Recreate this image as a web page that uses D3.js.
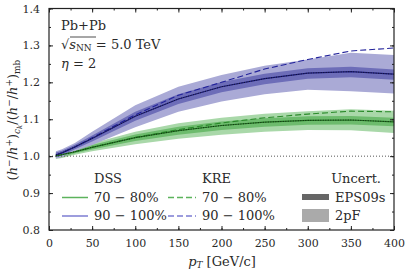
<!DOCTYPE html>
<html>
<head>
<meta charset="utf-8">
<script src="https://cdn.jsdelivr.net/npm/d3@7"></script>
<style>
body { margin: 0; background: #fff; }
text { font-family: "DejaVu Serif", serif; fill: #2a2a2a; }
</style>
</head>
<body>
<div id="chart"></div>
<script>
// pT grid (GeV/c)
var pt = [8, 15, 30, 50, 100, 150, 200, 250, 300, 350, 400]

// DSS central curves
var dss7080 = [1.001, 1.004, 1.012, 1.024, 1.050, 1.069, 1.083, 1.092, 1.097, 1.098, 1.093]
var dss90100 = [1.003, 1.009, 1.025, 1.048, 1.108, 1.155, 1.188, 1.210, 1.225, 1.229, 1.222]
// KRE curves
var kre7080 = [1.001, 1.004, 1.012, 1.024, 1.051, 1.072, 1.090, 1.104, 1.114, 1.122, 1.120]
var kre90100 = [1.003, 1.009, 1.025, 1.050, 1.112, 1.165, 1.200, 1.236, 1.262, 1.285, 1.293]

// 2pF bands (light)
var pf7080Lo = [0.992, 0.995, 1.004, 1.013, 1.032, 1.047, 1.058, 1.066, 1.071, 1.070, 1.063]
var pf7080Hi = [1.010, 1.013, 1.020, 1.035, 1.066, 1.089, 1.104, 1.115, 1.122, 1.127, 1.123]
var pf90100Lo = [0.994, 0.998, 1.014, 1.030, 1.078, 1.120, 1.148, 1.168, 1.180, 1.176, 1.170]
var pf90100Hi = [1.013, 1.019, 1.036, 1.066, 1.138, 1.188, 1.220, 1.245, 1.262, 1.280, 1.274]
// EPS09s bands (dark)
var eps7080Lo = [0.995, 0.998, 1.008, 1.018, 1.041, 1.058, 1.071, 1.080, 1.085, 1.086, 1.081]
var eps7080Hi = [1.007, 1.010, 1.016, 1.030, 1.059, 1.080, 1.094, 1.103, 1.108, 1.109, 1.104]
var eps90100Lo = [0.997, 1.002, 1.019, 1.040, 1.096, 1.141, 1.173, 1.195, 1.210, 1.214, 1.207]
var eps90100Hi = [1.010, 1.015, 1.031, 1.056, 1.120, 1.168, 1.201, 1.223, 1.238, 1.242, 1.235]

var xTicks = [0, 50, 100, 150, 200, 250, 300, 350, 400]
var yTicks = [0.8, 0.9, 1.0, 1.1, 1.2, 1.3, 1.4]

const W = 407, H = 273
var pLeft = 49, pRight = 394, pTop = 8.5, pBottom = 230

var svg = d3.select("#chart").append("svg")
    .attr("width", W).attr("height", H)

var x = d3.scaleLinear().domain([0, 400]).range([pLeft, pRight])
var y = d3.scaleLinear().domain([0.8, 1.4]).range([pBottom, pTop])

function band(lo, hi) {
    return d3.area()
        .x((d, i) => x(pt[i]))
        .y0((d, i) => y(lo[i]))
        .y1((d, i) => y(hi[i]))(pt)
}
var line = d3.line().x((d, i) => x(pt[i])).y(d => y(d))

// bands
svg.append("path").attr("d", band(pf7080Lo, pf7080Hi)).attr("fill", "#a9d8a9")
svg.append("path").attr("d", band(eps7080Lo, eps7080Hi)).attr("fill", "#6dbb6d")
svg.append("path").attr("d", band(pf90100Lo, pf90100Hi)).attr("fill", "#aaaad6")
svg.append("path").attr("d", band(eps90100Lo, eps90100Hi)).attr("fill", "#6d6db8")

// reference line at 1
svg.append("line")
    .attr("x1", x(0)).attr("x2", x(400)).attr("y1", y(1)).attr("y2", y(1))
    .attr("stroke", "#555").attr("stroke-width", 1).attr("stroke-dasharray", "1,2")

// KRE dashed
svg.append("path").attr("d", line(kre7080)).attr("fill", "none")
    .attr("stroke", "#2a8a2a").attr("stroke-width", 1.1).attr("stroke-dasharray", "6,3")
svg.append("path").attr("d", line(kre90100)).attr("fill", "none")
    .attr("stroke", "#22229a").attr("stroke-width", 1.1).attr("stroke-dasharray", "6,3")

// DSS central
svg.append("path").attr("d", line(dss7080)).attr("fill", "none")
    .attr("stroke", "#1f7a1f").attr("stroke-width", 1.2)
svg.append("path").attr("d", line(dss90100)).attr("fill", "none")
    .attr("stroke", "#1a1a80").attr("stroke-width", 1.2)
svg.append("path").attr("d", line(dss7080)).attr("fill", "none")
    .attr("stroke", "#111").attr("stroke-width", 0.8).attr("stroke-dasharray", "1,1.5")
svg.append("path").attr("d", line(dss90100)).attr("fill", "none")
    .attr("stroke", "#111").attr("stroke-width", 0.8).attr("stroke-dasharray", "1,1.5")

// axes with inward ticks on all four sides
var xMinor = d3.range(0, 401, 25), yMinor = d3.range(0.8, 1.4001, 0.05)
function axisG(ax, tr) {
    var g = svg.append("g").attr("transform", tr).call(ax)
    g.select(".domain").remove()
    g.selectAll("line").attr("stroke", "#222")
    return g
}
axisG(d3.axisBottom(x).tickValues(xTicks).tickSize(-4).tickPadding(9).tickFormat(d3.format("d")), `translate(0,${pBottom})`)
axisG(d3.axisBottom(x).tickValues(xMinor).tickSize(-2).tickFormat(""), `translate(0,${pBottom})`)
axisG(d3.axisTop(x).tickValues(xTicks).tickSize(-4).tickFormat(""), `translate(0,${pTop})`)
axisG(d3.axisTop(x).tickValues(xMinor).tickSize(-2).tickFormat(""), `translate(0,${pTop})`)
axisG(d3.axisLeft(y).tickValues(yTicks).tickSize(-4).tickPadding(9).tickFormat(d3.format(".1f")), `translate(${pLeft},0)`)
axisG(d3.axisLeft(y).tickValues(yMinor).tickSize(-2).tickFormat(""), `translate(${pLeft},0)`)
axisG(d3.axisRight(y).tickValues(yTicks).tickSize(-4).tickFormat(""), `translate(${pRight},0)`)
axisG(d3.axisRight(y).tickValues(yMinor).tickSize(-2).tickFormat(""), `translate(${pRight},0)`)
svg.selectAll(".tick text").attr("font-family", "DejaVu Serif").attr("font-size", 11).attr("fill", "#2a2a2a")

svg.append("rect").attr("x", pLeft).attr("y", pTop)
    .attr("width", pRight - pLeft).attr("height", pBottom - pTop)
    .attr("fill", "none").attr("stroke", "#222").attr("stroke-width", 1.2)

// axis labels
svg.append("text").attr("x", 222).attr("y", 266).attr("text-anchor", "middle").attr("font-size", 13)
    .html('<tspan font-style="italic">p</tspan><tspan font-style="italic" font-size="9" dy="2">T</tspan><tspan dy="-2"> [GeV/c]</tspan>')
svg.append("text").attr("transform", "translate(17,120) rotate(-90)").attr("text-anchor", "middle").attr("font-size", 13)
    .html('(<tspan font-style="italic">h</tspan><tspan font-size="9" dy="-5">−</tspan><tspan dy="5">/</tspan><tspan font-style="italic">h</tspan><tspan font-size="9" dy="-5">+</tspan><tspan dy="5">)</tspan><tspan font-style="italic" font-size="9" dy="3">c</tspan><tspan font-style="italic" font-size="7" dy="1.5">k</tspan><tspan dy="-4.5">/(</tspan><tspan font-style="italic">h</tspan><tspan font-size="9" dy="-5">−</tspan><tspan dy="5">/</tspan><tspan font-style="italic">h</tspan><tspan font-size="9" dy="-5">+</tspan><tspan dy="5">)</tspan><tspan font-size="9" dy="3">mb</tspan>')

// annotation
svg.append("text").attr("x", 61).attr("y", 30).attr("font-size", 13).text("Pb+Pb")
svg.append("text").attr("x", 61).attr("y", 49).attr("font-size", 13)
    .html('√<tspan font-style="italic">s</tspan><tspan font-size="9" dy="2">NN</tspan><tspan dy="-2"> = 5.0 TeV</tspan>')
svg.append("line").attr("x1", 70).attr("x2", 96).attr("y1", 37).attr("y2", 37).attr("stroke", "#222").attr("stroke-width", 0.8)
svg.append("text").attr("x", 61).attr("y", 68).attr("font-size", 13)
    .html('<tspan font-style="italic">η</tspan> = 2')

// legend
var legFont = 13
svg.append("text").attr("x", 94).attr("y", 183).attr("font-size", legFont).text("DSS")
svg.append("text").attr("x", 202).attr("y", 183).attr("font-size", legFont).text("KRE")
svg.append("text").attr("x", 381).attr("y", 183).attr("text-anchor", "end").attr("font-size", legFont).text("Uncert.")

var rows = ["70 − 80%", "90 − 100%"]
var rowY = [197.5, 216]
var legCol = ["#5cb35c", "#7c7cd2"]
rows.forEach(function (r, i) {
    svg.append("line").attr("x1", 62).attr("x2", 88).attr("y1", rowY[i]).attr("y2", rowY[i])
        .attr("stroke", legCol[i]).attr("stroke-width", 1.5)
    svg.append("text").attr("x", 94).attr("y", rowY[i] + 4).attr("font-size", legFont).text(r)
    svg.append("line").attr("x1", 168).attr("x2", 196).attr("y1", rowY[i]).attr("y2", rowY[i])
        .attr("stroke", legCol[i]).attr("stroke-width", 1.5).attr("stroke-dasharray", "6,3")
    svg.append("text").attr("x", 202).attr("y", rowY[i] + 4).attr("font-size", legFont).text(r)
})
svg.append("rect").attr("x", 302).attr("y", 194).attr("width", 27).attr("height", 6).attr("fill", "#666")
svg.append("text").attr("x", 335).attr("y", 201.5).attr("font-size", legFont).text("EPS09s")
svg.append("rect").attr("x", 302).attr("y", 209).attr("width", 27).attr("height", 13).attr("fill", "#aaa")
svg.append("text").attr("x", 335).attr("y", 220).attr("font-size", legFont).text("2pF")
</script>
</body>
</html>
